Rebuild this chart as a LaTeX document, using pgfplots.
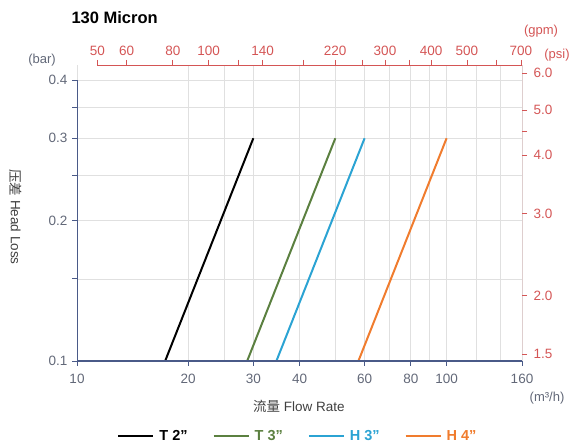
\documentclass[border=0pt]{standalone}
\usepackage{pgfplots}
\pgfplotsset{compat=1.18}
\usepackage{fontspec}
\setmainfont{Liberation Sans}
\newfontfamily\cjk{Noto Sans CJK SC}
\definecolor{axblue}{HTML}{4A5A88}
\definecolor{tickgray}{HTML}{626878}
\definecolor{axred}{HTML}{D45555}
\definecolor{gridgray}{HTML}{E0E0E0}
\definecolor{cT3}{HTML}{5B8040}
\definecolor{cH3}{HTML}{2BA3D3}
\definecolor{cH4}{HTML}{F07C2E}
\begin{document}
\begin{tikzpicture}[x=1pt,y=1pt]
\useasboundingbox (0,0) rectangle (574,444);
% main axis (m3/h vs bar)
\begin{axis}[
  at={(77pt,83pt)}, anchor=south west, scale only axis,
  width=445pt, height=296pt,
  xmode=log, ymode=log,
  xmin=10, xmax=160, ymin=0.1, ymax=0.4306,
  axis line style={draw=none},
  xtick pos=bottom, ytick pos=left,
  tick align=outside, major tick length=5pt,
  tick style={axblue, line width=0.8pt},
  xtick={10,20,30,40,60,80,100,160},
  xticklabels={10,20,30,40,60,80,100,160},
  ytick={0.1,0.2,0.3,0.4},
  yticklabels={0.1,0.2,0.3,0.4},
  extra x ticks={25,50,70,90,120,140},
  extra x tick labels={},
  extra x tick style={major tick length=0pt, grid=major},
  extra y ticks={0.15,0.25,0.35},
  extra y tick labels={},
  extra y tick style={grid=major},
  grid=major,
  major grid style={gridgray, line width=0.6pt},
  tick label style={font=\fontsize{13.5}{15}\selectfont, text=tickgray},
  xticklabel style={yshift=-5pt},
  yticklabel style={xshift=-1pt},
  legend columns=4,
  legend style={at={(0.5,-0.255)}, anchor=center, draw=none, fill=none,
    font=\bfseries\fontsize{14.5}{16}\selectfont,
    /tikz/every even column/.append style={column sep=20pt},
    nodes={inner xsep=5pt}},
  legend image code/.code={\draw[#1, line width=2pt] (0pt,0pt) -- (35pt,0pt);},
]
\addplot[black, line width=2pt] coordinates {(17.32,0.1) (30,0.3)};
\addlegendentry{T 2”}
\addplot[cT3, line width=2pt] coordinates {(28.87,0.1) (50,0.3)};
\addlegendentry{\textcolor{cT3}{T 3”}}
\addplot[cH3, line width=2pt] coordinates {(34.64,0.1) (60,0.3)};
\addlegendentry{\textcolor{cH3}{H 3”}}
\addplot[cH4, line width=2pt] coordinates {(57.74,0.1) (100,0.3)};
\addlegendentry{\textcolor{cH4}{H 4”}}
\draw[axblue, line width=1.1pt] (axis cs:10,0.1) -- (axis cs:160,0.1);
\draw[axblue, line width=1.1pt] (axis cs:10,0.1) -- (axis cs:10,0.4);
\end{axis}
% top axis (gpm)
\begin{axis}[
  at={(77pt,83pt)}, anchor=south west, scale only axis,
  width=445pt, height=296pt,
  xmode=log, xmin=44.029, xmax=704.47, ymin=0, ymax=1,
  axis line style={draw=none},
  xtick pos=top, xticklabel pos=top, ytick=\empty,
  tick align=outside, major tick length=5pt,
  tick style={axred, line width=0.8pt},
  xtick={50,60,80,100,120,140,180,220,260,300,350,400,500,600,700},
  xticklabels={50,60,80,100,,140,,220,,300,,400,500,,700},
  tick label style={font=\fontsize{13.5}{15}\selectfont, text=axred},
  xticklabel style={yshift=1pt},
]
\draw[axred, line width=0.9pt] (axis cs:50,1) -- (axis cs:704.47,1);
\end{axis}
% right axis (psi)
\begin{axis}[
  at={(77pt,83pt)}, anchor=south west, scale only axis,
  width=445pt, height=296pt,
  ymode=log, ymin=1.45038, ymax=6.2453, xmin=0, xmax=1,
  axis line style={draw=none},
  ytick pos=right, yticklabel pos=right, xtick=\empty,
  tick align=outside, major tick length=5pt,
  tick style={axred, line width=0.8pt},
  ytick={1.5,2,3,4,4.5,5,6},
  yticklabels={1.5,2.0,3.0,4.0,,5.0,6.0},
  tick label style={font=\fontsize{13.5}{15}\selectfont, text=axred},
  yticklabel style={xshift=3pt},
]
\draw[axred, line width=0.9pt] (axis cs:1,1.5) -- (axis cs:1,6.2453);
\end{axis}
% texts
\node[anchor=west, font=\bfseries\fontsize{16.5}{18}\selectfont] at (68,426) {130 Micron};
\node[font=\fontsize{13}{15}\selectfont, text=tickgray] at (42,384) {(bar)};
\node[font=\fontsize{13}{15}\selectfont, text=axred] at (541,413) {(gpm)};
\node[font=\fontsize{13}{15}\selectfont, text=axred] at (557,389) {(psi)};
\node[font=\fontsize{13}{15}\selectfont, text=tickgray] at (547,46) {(m³/h)};
\node[rotate=-90, font=\fontsize{13.5}{15}\selectfont, text=black!75] at (16,227) {{\cjk 压差} Head Loss};
\node[font=\fontsize{13.5}{15}\selectfont, text=black!75] at (299,38) {{\cjk 流量} Flow Rate};
\end{tikzpicture}
\end{document}
